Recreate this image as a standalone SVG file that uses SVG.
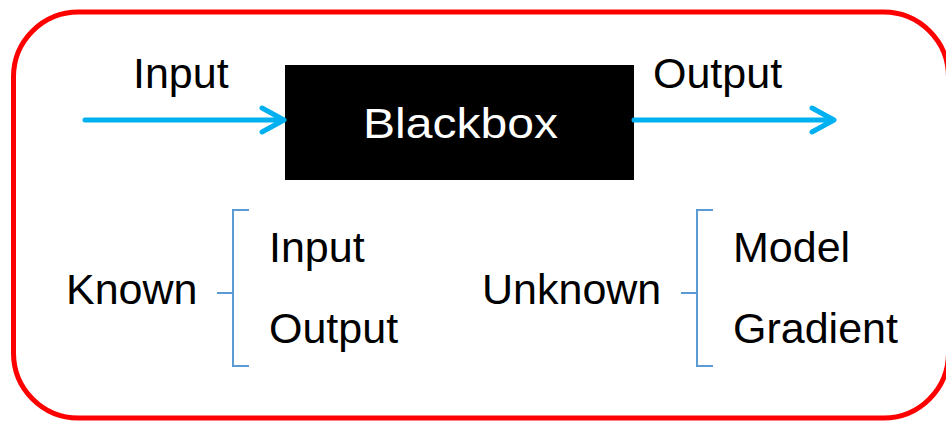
<svg xmlns="http://www.w3.org/2000/svg" width="946" height="421" viewBox="0 0 946 421">
<style>
text{font-family:"Liberation Sans",Arial,sans-serif;font-size:43px;fill:#000}
.arrow{stroke:#00B0F0;stroke-width:5;fill:none;stroke-linecap:round;stroke-linejoin:round}
.br{stroke:#5B9BD5;stroke-width:2;fill:none}
</style>
<rect x="0" y="0" width="946" height="421" fill="#fff"/>
<g id="frame"><rect x="13.5" y="12" width="935" height="406" rx="65" ry="65" fill="none" stroke="#FF0000" stroke-width="5"/></g>
<g id="blackbox">
<rect x="285" y="65" width="349" height="115" fill="#000"/>
<text x="363" y="138" textLength="195" lengthAdjust="spacingAndGlyphs" style="fill:#fff">Blackbox</text>
</g>
<g id="connectors">
<path class="arrow" d="M85 120H283M262 108L284 120L262 132"/>
<path class="arrow" d="M634 120H833M812 108L834 120L812 132"/>
<path class="br" d="M249 210H233V366H249M217 293H233"/>
<path class="br" d="M713 210H697V366H713M681 293H697"/>
</g>
<g id="input-label"><text x="133" y="88">Input</text></g>
<g id="output-label"><text x="653" y="88">Output</text></g>
<g id="known"><text x="66" y="304">Known</text></g>
<g id="known-input"><text x="269" y="262">Input</text></g>
<g id="known-output"><text x="269" y="343">Output</text></g>
<g id="unknown"><text x="482" y="304">Unknown</text></g>
<g id="unknown-model"><text x="733" y="262">Model</text></g>
<g id="unknown-gradient"><text x="733" y="343">Gradient</text></g>
</svg>
